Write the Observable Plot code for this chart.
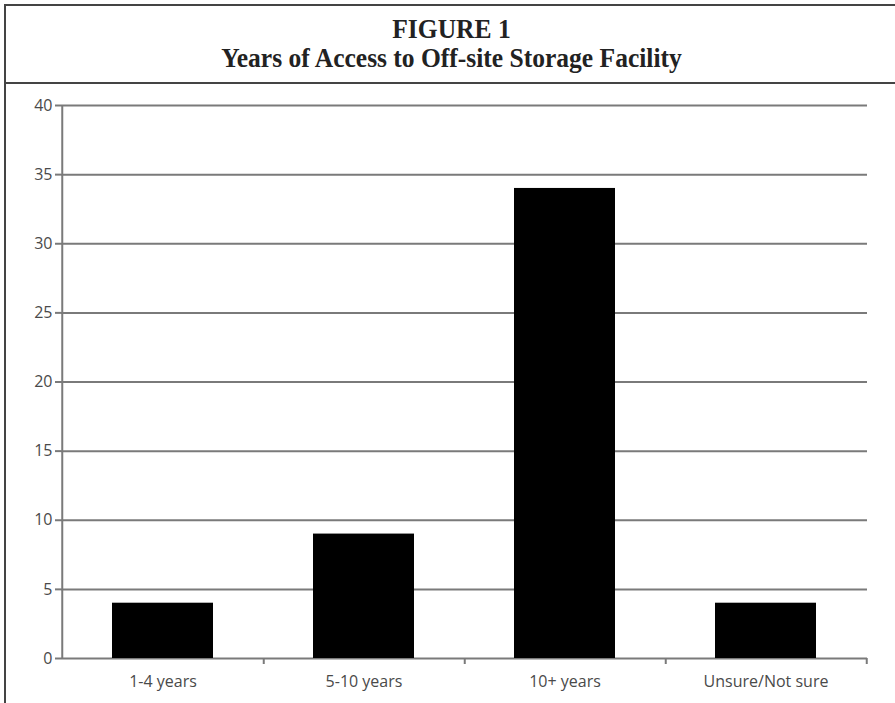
<!DOCTYPE html>
<html>
<head>
<meta charset="utf-8">
<script src="https://cdn.jsdelivr.net/npm/d3@7"></script>
<script src="https://cdn.jsdelivr.net/npm/@observablehq/plot@0.6"></script>
<style>
  html, body { margin: 0; padding: 0; background: #fff; }
  #wrap { position: relative; width: 895px; height: 703px; overflow: hidden; background: #fff; }
  #header {
    position: absolute; left: 4px; top: 4px; width: 891px; height: 76px;
    border-top: 2px solid #444; border-left: 2px solid #444; border-bottom: 2px solid #444;
    box-sizing: content-box; z-index: 2;
    font-family: "Liberation Serif", "Times New Roman", serif; font-weight: bold; color: #222;
    text-align: center;
  }
  #header .l { position: absolute; left: 0; right: 0; font-size: 27px; line-height: 30px; white-space: nowrap; transform: scaleX(0.945); transform-origin: 445px 0; }
  #header .l1 { top: 8px; }
  #header .l2 { top: 37px; }
  #leftline { position: absolute; left: 4px; top: 82px; width: 0; height: 621px; border-left: 2px solid #444; z-index: 2; }
  #chart { position: absolute; left: 0; top: 83px; z-index: 1; }
  #chart svg text { font-size: 16px; font-family: "Open Sans", sans-serif; }
</style>
</head>
<body>
<div id="wrap">
  <div id="header"><div class="l l1">FIGURE 1</div><div class="l l2">Years of Access to Off-site Storage Facility</div></div>
  <div id="leftline"></div>
  <div id="chart"></div>
</div>
<script>
const categories = ["1-4 years", "5-10 years", "10+ years", "Unsure/Not sure"];
const counts = [4, 9, 34, 4];
const yTicks = [0, 5, 10, 15, 20, 25, 30, 35, 40];

const data = categories.map((c, i) => ({category: c, count: counts[i]}));

const W = 895, H = 620, ML = 61, MR = 28, MT = 22, MB = 45;
const step = (W - ML - MR) / categories.length;
const gridColor = "#7a7a7a";

const chart = Plot.plot({
  width: W,
  height: H,
  marginLeft: ML,
  marginRight: MR,
  marginTop: MT,
  marginBottom: MB,
  style: {fontFamily: "'Open Sans', sans-serif", fontSize: "16px", color: "#444", background: "#fff"},
  x: {domain: categories, paddingInner: 0.5, paddingOuter: 0.25, label: null},
  y: {domain: [0, 40], label: null},
  marks: [
    Plot.gridY(yTicks, {stroke: gridColor, strokeOpacity: 1, strokeWidth: 2}),
    Plot.barY(data, {x: "category", y: "count", fill: "#000"}),
    Plot.ruleX([categories[0]], {x: d => d, y1: 0, y2: 40, dx: -step / 2, stroke: gridColor, strokeWidth: 2}),
    Plot.axisY({ticks: yTicks, tickSize: 6, tickPadding: 3, stroke: gridColor, strokeWidth: 2, label: null, fill: "#4a4a4a", fontSize: 16}),
    Plot.axisX(categories, {tickSize: 6, tickFormat: () => "", dx: step / 2, stroke: gridColor, strokeWidth: 2, label: null}),
    Plot.axisX({tickSize: 0, tickPadding: 17, label: null, fill: "#4a4a4a", fontSize: 16})
  ]
});
document.getElementById("chart").appendChild(chart);
</script>
</body>
</html>
